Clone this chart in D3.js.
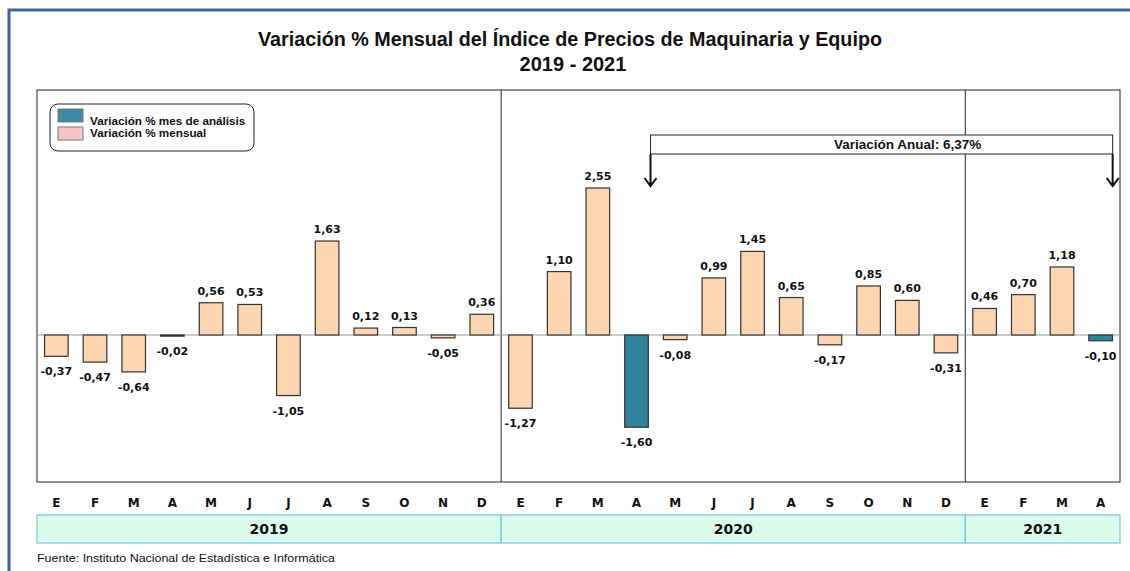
<!DOCTYPE html>
<html>
<head>
<meta charset="utf-8">
<script src="https://cdn.jsdelivr.net/npm/d3@7.9.0/dist/d3.min.js"></script>
<style>
  body { margin: 0; background: #fff; }
  svg { display: block; }
  .val { font-family: "DejaVu Sans", Verdana, sans-serif; font-weight: bold; font-size: 11px; fill: #111; }
  .mes { font-family: "DejaVu Sans", Verdana, sans-serif; font-weight: bold; font-size: 12px; fill: #111; }
</style>
</head>
<body>
<div id="chart"></div>
<script>
// --- data ---
const years = ['2019', '2020', '2021'];
const monthsByYear = [
  ['E', 'F', 'M', 'A', 'M', 'J', 'J', 'A', 'S', 'O', 'N', 'D'],
  ['E', 'F', 'M', 'A', 'M', 'J', 'J', 'A', 'S', 'O', 'N', 'D'],
  ['E', 'F', 'M', 'A']
];
const values2019 = [-0.37, -0.47, -0.64, -0.02, 0.56, 0.53, -1.05, 1.63, 0.12, 0.13, -0.05, 0.36];
const values2020 = [-1.27, 1.10, 2.55, -1.60, -0.08, 0.99, 1.45, 0.65, -0.17, 0.85, 0.60, -0.31];
const values2021 = [0.46, 0.70, 1.18, -0.10];
const highlighted = ['2020-3', '2021-3']; // mes de análisis (abril)
const annualLabel = 'Variación Anual: 6,37%';

// build rows
const rows = [];
[values2019, values2020, values2021].forEach((vals, yi) => {
  vals.forEach((v, mi) => {
    rows.push({
      key: years[yi] + '-' + mi,
      year: years[yi],
      month: monthsByYear[yi][mi],
      value: v,
      hi: highlighted.includes(years[yi] + '-' + mi)
    });
  });
});

const width = 1130, height = 571;
const plot = { left: 37, right: 1120, top: 90, bottom: 482 };

const svg = d3.select('#chart').append('svg')
  .attr('width', width).attr('height', height);

// outer frame (blue top + left edge)
svg.append('path')
  .attr('d', `M9,571 V10 H1130`)
  .attr('fill', 'none').attr('stroke', '#3d6696').attr('stroke-width', 3);

// title
const title = svg.append('text')
  .attr('text-anchor', 'middle')
  .style('font-family', '"Liberation Sans", Arial, sans-serif')
  .style('font-weight', 'bold').style('font-size', '20px').attr('fill', '#111');
title.append('tspan').attr('x', 570).attr('y', 46)
  .attr('textLength', 624).attr('lengthAdjust', 'spacingAndGlyphs')
  .text('Variación % Mensual del Índice de Precios de Maquinaria y Equipo');
title.append('tspan').attr('x', 573).attr('y', 71).text('2019 - 2021');

// scales
const x = d3.scaleBand()
  .domain(rows.map(d => d.key))
  .range([plot.left, plot.right])
  .paddingInner(0.39).paddingOuter(0.195);
const step = x.step();

const y = d3.scaleLinear().domain([-2.55, 4.25]).range([plot.bottom, plot.top]);

// plot frame
svg.append('rect')
  .attr('x', plot.left).attr('y', plot.top)
  .attr('width', plot.right - plot.left).attr('height', plot.bottom - plot.top)
  .attr('fill', 'none').attr('stroke', '#222').attr('stroke-width', 1);

// year dividers
const yearStarts = years.map(yr => rows.findIndex(d => d.year === yr));
yearStarts.slice(1).forEach(i => {
  const xx = x.range()[0] + i * step;
  svg.append('line')
    .attr('x1', xx).attr('x2', xx).attr('y1', plot.top).attr('y2', plot.bottom)
    .attr('stroke', '#222').attr('stroke-width', 1);
});

// zero line
svg.append('line')
  .attr('x1', plot.left).attr('x2', plot.right)
  .attr('y1', y(0)).attr('y2', y(0))
  .attr('stroke', '#9a9a9a').attr('stroke-width', 1.2);

// bars
svg.append('g').selectAll('rect')
  .data(rows).join('rect')
  .attr('x', d => x(d.key))
  .attr('width', x.bandwidth())
  .attr('y', d => Math.min(y(d.value), y(0)))
  .attr('height', d => Math.max(1, Math.abs(y(d.value) - y(0))))
  .attr('fill', d => d.hi ? '#31849b' : '#fdd5b1')
  .attr('stroke', '#333').attr('stroke-width', 1.2);

// value labels (comma decimals, plain hyphen)
const fmt = v => v.toFixed(2).replace('.', ',');
svg.append('g').selectAll('text')
  .data(rows).join('text')
  .attr('class', 'val')
  .attr('x', d => x(d.key) + x.bandwidth() / 2)
  .attr('y', d => d.value >= 0 ? y(d.value) - 8 : y(d.value) + 19)
  .attr('text-anchor', 'middle')
  .text(d => fmt(d.value));

// month labels
svg.append('g').selectAll('text')
  .data(rows).join('text')
  .attr('class', 'mes')
  .attr('x', d => x(d.key) + x.bandwidth() / 2)
  .attr('y', 507)
  .attr('text-anchor', 'middle')
  .text(d => d.month);

// year band
const yearEnds = yearStarts.slice(1).concat([rows.length]);
years.forEach((yr, i) => {
  const x0 = i === 0 ? plot.left : x.range()[0] + yearStarts[i] * step;
  const x1 = i === years.length - 1 ? plot.right : x.range()[0] + yearEnds[i] * step;
  svg.append('rect')
    .attr('x', x0).attr('y', 515).attr('width', x1 - x0).attr('height', 28)
    .attr('fill', '#dafdeb').attr('stroke', '#5bbfd8').attr('stroke-width', 1);
  svg.append('text')
    .attr('class', 'mes').style('font-size', '14px')
    .attr('x', (x0 + x1) / 2).attr('y', 534).attr('text-anchor', 'middle')
    .text(yr);
});

// annual variation bracket
const a0 = x('2020-3') + x.bandwidth() / 2 + 14;
const a1 = x('2021-3') + x.bandwidth() / 2 + 12;
svg.append('rect')
  .attr('x', a0).attr('y', 135).attr('width', a1 - a0).attr('height', 19)
  .attr('fill', '#fff').attr('stroke', '#222').attr('stroke-width', 1);
svg.append('text')
  .attr('x', (a0 + a1) / 2 + 26).attr('y', 149).attr('text-anchor', 'middle')
  .style('font-family', '"Liberation Sans", Arial, sans-serif')
  .style('font-weight', 'bold').style('font-size', '13.5px').attr('fill', '#111')
  .text(annualLabel);
[a0, a1].forEach(ax => {
  svg.append('path')
    .attr('d', `M${ax},154 V186 M${ax - 6},178 L${ax},186 L${ax + 6},178`)
    .attr('fill', 'none').attr('stroke', '#111').attr('stroke-width', 2);
});

// legend
const lg = svg.append('g').attr('transform', 'translate(50,104)');
lg.append('rect')
  .attr('width', 204).attr('height', 47).attr('rx', 8)
  .attr('fill', '#fff').attr('stroke', '#222').attr('stroke-width', 1);
const legendItems = [
  { label: 'Variación % mes de análisis', color: '#3a8ba6' },
  { label: 'Variación % mensual', color: '#f7c5c6' }
];
legendItems.forEach((it, i) => {
  lg.append('rect')
    .attr('x', 8).attr('y', 5 + i * 18).attr('width', 25).attr('height', 13)
    .attr('fill', it.color).attr('stroke', '#777').attr('stroke-width', 1);
  lg.append('text')
    .attr('x', 40).attr('y', 21 + i * 12)
    .style('font-family', '"Liberation Sans", Arial, sans-serif')
    .style('font-weight', 'bold').style('font-size', '11.7px').attr('fill', '#111')
    .text(it.label);
});

// source
svg.append('text')
  .attr('x', 37).attr('y', 562)
  .style('font-family', '"Liberation Sans", Arial, sans-serif')
  .style('font-size', '11px').attr('fill', '#111')
  .attr('textLength', 298).attr('lengthAdjust', 'spacingAndGlyphs')
  .text('Fuente: Instituto  Nacional de Estadística  e Informática');
</script>
</body>
</html>
